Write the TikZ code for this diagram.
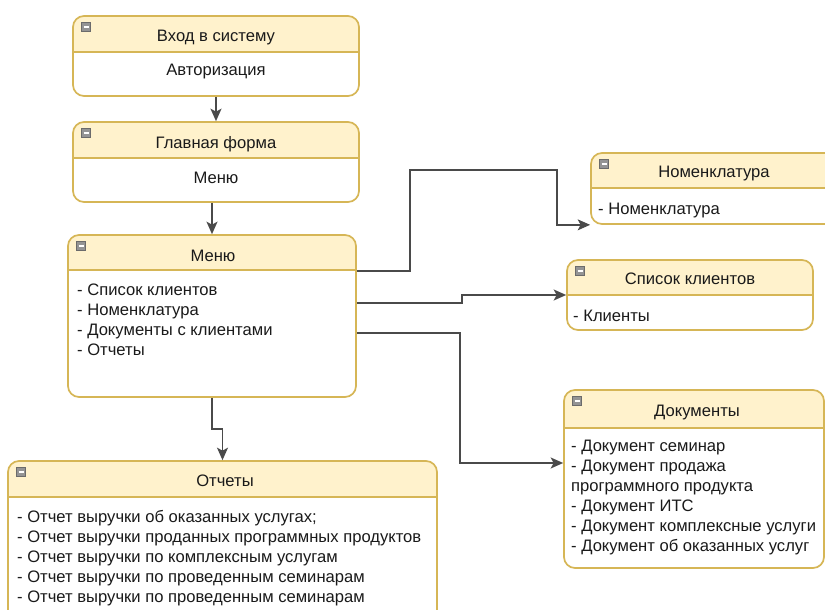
\documentclass[tikz,border=0pt]{standalone}
\usepackage{fontspec}
\setmainfont{Liberation Sans}
\usetikzlibrary{arrows.meta}
\definecolor{hdrfill}{HTML}{FFF2CC}
\definecolor{cardedge}{HTML}{D6B656}
\definecolor{wire}{HTML}{4A4A4A}
\definecolor{inktext}{HTML}{1A1A1A}

\tikzset{
  head/.store in=\cardhead, head=36,
  card/.style 2 args={draw=cardedge, line width=1.7pt, rounded corners=11pt,
    fill=white, inner sep=0pt, minimum width=#1, minimum height=#2,
    path picture={
      \path (path picture bounding box.north west) coordinate (pnw)
            (path picture bounding box.north east) coordinate (pne);
      \fill[hdrfill, sharp corners] (pnw) rectangle ([yshift=-\cardhead pt]pne);
      \draw[cardedge, line width=1.7pt, sharp corners]
        ([yshift=-\cardhead pt]pnw) -- ([yshift=-\cardhead pt]pne);
      \filldraw[fill=black!42, draw=black!58, line width=0.7pt, sharp corners]
        ([xshift=8.5pt,yshift=-6.5pt]pnw) rectangle ([xshift=17.5pt,yshift=-15.5pt]pnw);
      \draw[white, line width=1.4pt, sharp corners]
        ([xshift=10.5pt,yshift=-11pt]pnw) -- ([xshift=15.5pt,yshift=-11pt]pnw);
    }},
  hdr/.style={font=\fontsize{16.6}{20}\selectfont, text=inktext,
    text height=12pt, text depth=4pt, inner sep=0pt},
  items/.style={font=\fontsize{16.6}{20}\selectfont, text=inktext,
    align=left, anchor=north west, inner sep=0pt},
  conn/.style={draw=wire, line width=1.4pt,
    -{Stealth[length=12.5pt, width=11pt, inset=3pt]}}
}

\begin{document}
\begin{tikzpicture}[x=1pt, y=-1pt]
\useasboundingbox (0,0) rectangle (825,610);
\clip (0,0) rectangle (825,610);

% cards
\node[card={286pt}{80pt}, head=36] (login) at (216,56) {};
\node[card={286pt}{80pt}, head=36] (main) at (216,162) {};
\node[card={288pt}{162pt}, head=35] (menu) at (212,316) {};
\node[card={247pt}{71pt}, head=35] (nomen) at (714.5,188.5) {};
\node[card={246pt}{70pt}, head=35] (clients) at (690,295) {};
\node[card={260pt}{178pt}, head=38] (docs) at (694,479) {};
\node[card={429pt}{170pt}, head=36] (reports) at (222.5,546) {};

% titles and contents
\node[hdr] (loginT) at (216,38) {Вход в систему};
\node[hdr] (loginB) at (216,72) {Авторизация};
\node[hdr] (mainT) at (216,144) {Главная форма};
\node[hdr] (mainB) at (216,179) {Меню};
\node[hdr] (menuT) at (213,257) {Меню};
\node[items] (menuB) at (77,281.5) {\strut- Список клиентов\\- Номенклатура\\- Документы с клиентами\\- Отчеты};
\node[hdr] (nomenT) at (714,173) {Номенклатура};
\node[items] (nomenB) at (598,200.5) {\strut- Номенклатура};
\node[hdr] (clientsT) at (690,280) {Список клиентов};
\node[items] (clientsB) at (573,307.5) {\strut- Клиенты};
\node[hdr] (docsT) at (697,412) {Документы};
\node[items] (docsB) at (571,437.5) {\strut- Документ семинар\\- Документ продажа\\программного продукта\\- Документ ИТС\\- Документ комплексные услуги\\- Документ об оказанных услуг};
\node[hdr] (reportsT) at (225,482) {Отчеты};
\node[items] (reportsB) at (17,508) {\strut- Отчет выручки об оказанных услугах;\\- Отчет выручки проданных программных продуктов\\- Отчет выручки по комплексным услугам\\- Отчет выручки по проведенным семинарам\\- Отчет выручки по проведенным семинарам};

% connectors
\draw[conn] (login.south) -- (main.north);
\draw[conn] (main.south -| menu.north) -- (menu.north);
\draw[conn] (menu.south) -- ++(0,31) -| (reports.north);
\draw[conn] ([yshift=45pt]menu.east) -- (410,271) -- (410,170) -- (557,170)
  |- (nomen.south west);
\draw[conn] ([yshift=13pt]menu.east) -| (462,295) -- (clients.west);
\draw[conn] ([yshift=-17pt]menu.east) -| (460,463) -- ([yshift=16pt]docs.west);
\end{tikzpicture}
\end{document}
